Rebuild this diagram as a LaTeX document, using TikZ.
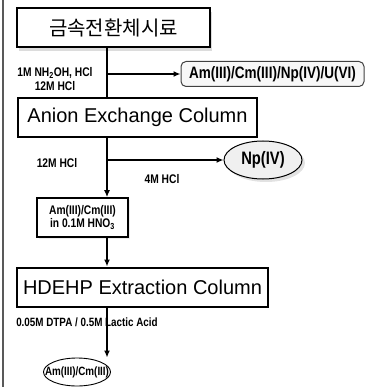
\documentclass[tikz,border=0pt]{standalone}
\usepackage{fontspec}
\setmainfont{Liberation Sans}
\newfontfamily\krfont{Noto Sans CJK KR}
\newfontfamily\narrowfont[FakeStretch=0.82]{Liberation Sans}
\usetikzlibrary{arrows.meta,shapes.geometric,shadows}

\begin{document}
\begin{tikzpicture}[x=1pt,y=-1pt,
    box/.style={draw, line width=2pt, minimum height=39pt, inner sep=0pt, font=\fontsize{20}{22}\selectfont},
    smallbox/.style={draw, line width=1.6pt, inner sep=0pt, align=center, font=\narrowfont\bfseries\fontsize{12.5}{13.5}\selectfont},
    lbl/.style={inner sep=0pt, align=center, font=\narrowfont\bfseries\fontsize{12.5}{13.5}\selectfont},
    shade/.style={drop shadow={shadow xshift=2pt, shadow yshift=-4pt, fill=gray!55}},
    flow/.style={line width=1.8pt, -{Latex[length=7pt,width=6pt]}},
    plain/.style={line width=1.8pt}]
    \useasboundingbox (0,0) rectangle (365,387);
    \draw[line width=2.5pt, black!65] (3,0) -- (3,387);
    \coordinate (spine) at (107,0);
    % Boxes
    \node[box, shade, fill=white, minimum width=193pt] (src) at (113.5,28) {\krfont 금속전환체시료};
    \node[draw=black!75, line width=1pt, rounded corners=5pt, fill=gray!6, minimum width=183pt, minimum height=25pt, inner sep=0pt,
          font=\narrowfont\bfseries\fontsize{16.5}{17}\selectfont] (mix) at (272.5,74) {Am(III)/Cm(III)/Np(IV)/U(VI)};
    \node[box, minimum width=239pt] (anion) at (137.5,117.5) {Anion Exchange Column};
    \node[ellipse, draw, line width=1pt, fill=gray!12, minimum width=78pt, minimum height=38pt, inner sep=0pt,
          drop shadow={shadow xshift=3pt, shadow yshift=-3pt, fill=gray!45},
          font=\narrowfont\bfseries\fontsize{18}{19}\selectfont] (np) at (263,160) {Np(IV)};
    \node[smallbox, minimum width=91pt, minimum height=39pt, drop shadow={shadow xshift=2pt, shadow yshift=-2pt, fill=gray!30}, fill=white]
          (amcm) at (82.5,217.5) {Am(III)/Cm(III)\\in 0.1M HNO\textsubscript{3}};
    \node[box, minimum width=251pt] (hdehp) at (142.5,287) {HDEHP Extraction Column};
    \node[ellipse, draw, line width=0.9pt, minimum width=67pt, minimum height=28pt, inner sep=0pt,
          label={[font=\narrowfont\bfseries\fontsize{12}{13}\selectfont]center:Am(III)/Cm(III)}] (prod) at (77,372) {};
    % Labels
    \node[lbl] (lbA) at (55,79) {1M NH\textsubscript{2}OH, HCl\\12M HCl};
    \node[lbl] (lbB) at (57,163) {12M HCl};
    \node[lbl] (lbC) at (162,179) {4M HCl};
    \node[lbl, font=\narrowfont\bfseries\fontsize{12}{12}\selectfont] (lbD) at (87,322) {0.05M DTPA / 0.5M Lactic Acid};
    % Flow
    \draw[plain] (src.south -| spine) -- (anion.north -| spine);
    \draw[flow] (spine |- mix.west) -- (mix.west);
    \draw[flow] (anion.south -| spine) -- (amcm.north -| spine);
    \draw[flow] (spine |- np.west) -- (np.west);
    \draw[flow] (amcm.south -| spine) -- (hdehp.north -| spine);
    \draw[flow] (hdehp.south -| spine) -- (prod.north -| spine);
\end{tikzpicture}
\end{document}
